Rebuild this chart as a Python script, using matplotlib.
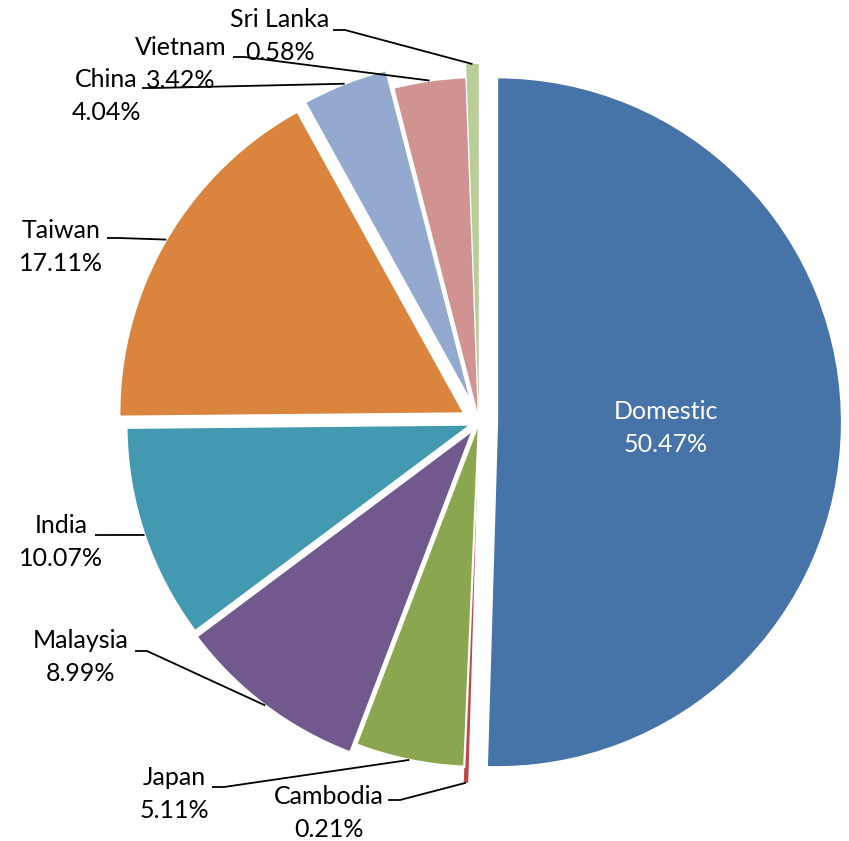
import numpy as np
import matplotlib.pyplot as plt

plt.rcParams['font.family'] = ['Lato', 'DejaVu Sans']

# ------------------------------------------------------------
# data (share in %), clockwise from 12 o'clock
# ------------------------------------------------------------
countries = ['Domestic', 'Cambodia', 'Japan', 'Malaysia', 'India',
             'Taiwan', 'China', 'Vietnam', 'Sri Lanka']
shares = [50.47, 0.21, 5.11, 8.99, 10.07, 17.11, 4.04, 3.42, 0.58]
colors = ['#4674A9', '#B94A48', '#8AA64F', '#71598E', '#4299B0',
          '#DB843D', '#94A9CF', '#D19392', '#B9CD96']

# explode offsets (pixels)
explode = [18, 16, 0, 10, 8, 17, 19, 0, 13]

W, H = 849, 841
CX, CY, R = 479, 422, 345


def py(y):
    # pixel row -> data y
    return H - y


fig = plt.figure(figsize=(W / 100, H / 100), dpi=100)
ax = fig.add_axes([0, 0, 1, 1])

wedges, _ = ax.pie(shares, colors=colors, explode=explode, radius=R,
                   center=(CX, py(CY)), startangle=90, counterclock=False,
                   wedgeprops=dict(edgecolor='white', linewidth=1.6))
# very thin slices: no white border so they stay visible
for w, v in zip(wedges, shares):
    if v < 1:
        w.set_linewidth(0)

ax.set_xlim(0, W)
ax.set_ylim(0, H)
ax.set_aspect('equal')
ax.axis('off')

fs = 18
lsp = 1.5

# Domestic label inside the slice
ax.text(666, py(428), f'Domestic\n{shares[0]:.2f}%', color='white',
        fontsize=fs, ha='center', va='center', linespacing=lsp)

# outside labels: text centre, leader start (pixel coords)
label_pos = {
    'Sri Lanka': ((280, 36), (333, 30)),
    'Vietnam': ((181, 64), (233, 57)),
    'China': ((106, 96), (142, 88)),
    'Taiwan': ((61, 247), (107, 238)),
    'India': ((61, 542), (95, 535)),
    'Malaysia': ((81, 657), (135, 651)),
    'Japan': ((174, 794), (212, 787)),
    'Cambodia': ((329, 813), (388, 800)),
}

for w, name, val in zip(wedges, countries, shares):
    if name not in label_pos:
        continue
    (tx, ty), (lx, ly) = label_pos[name]
    ax.text(tx, py(ty), f'{name}\n{val:.2f}%', fontsize=fs, ha='center',
            va='center', linespacing=lsp, color='black')
    # anchor on the outer arc at the middle of the wedge
    th = np.deg2rad((w.theta1 + w.theta2) / 2)
    ax_, ay_ = w.center[0] + w.r * np.cos(th), w.center[1] + w.r * np.sin(th)
    ax.plot([lx, lx + 12, ax_], [py(ly), py(ly), ay_], color='black',
            linewidth=1.3, solid_capstyle='butt')

plt.savefig('out.png', dpi=100)
